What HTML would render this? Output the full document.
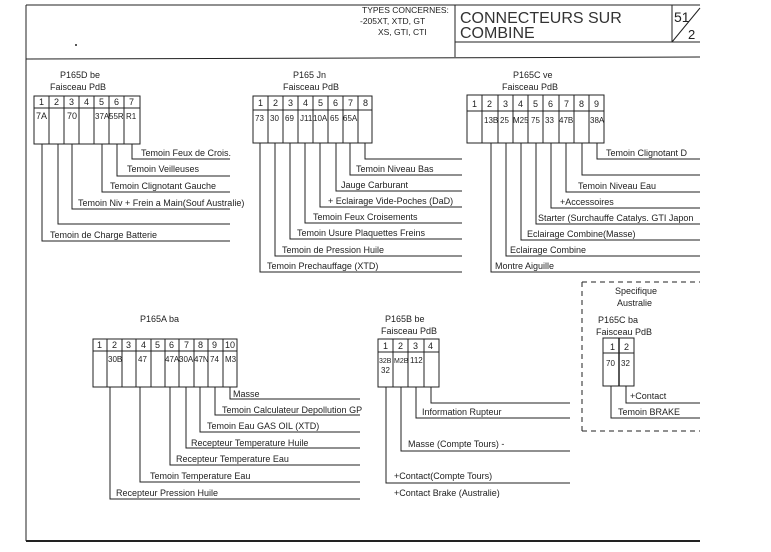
<!DOCTYPE html>
<html><head><meta charset="utf-8"><style>
html,body{margin:0;padding:0;background:#fff;}
svg{display:block;}
text{font-family:"Liberation Sans",sans-serif;font-size:9px;fill:#222;}
.n{font-size:9px;}
</style></head><body>
<svg width="771" height="552" viewBox="0 0 771 552" xmlns="http://www.w3.org/2000/svg">
<g stroke="#222" stroke-width="1" fill="none">
<!-- frame -->
<line x1="26" y1="5" x2="700" y2="5"/>
<line x1="26" y1="5" x2="26" y2="541"/>
<line x1="26" y1="541" x2="700" y2="541" stroke-width="2"/>
<line x1="26" y1="59" x2="700" y2="57"/>
<line x1="455" y1="5" x2="455" y2="57"/>
<line x1="455" y1="42" x2="700" y2="42"/>
<line x1="672" y1="5" x2="672" y2="42"/>
<line x1="672" y1="42" x2="700" y2="8"/>
</g>
<circle cx="76" cy="45" r="1" fill="#222"/>
<text x="362" y="13" style="font-size:8.5px">TYPES CONCERNES:</text>
<text x="360" y="24" style="font-size:8.5px">-205XT, XTD, GT</text>
<text x="378" y="35" style="font-size:8.5px">XS, GTI, CTI</text>
<text x="460" y="23" style="font-size:16px;fill:#333">CONNECTEURS  SUR</text>
<text x="460" y="38" style="font-size:16px;fill:#333">COMBINE</text>
<text x="674" y="22" style="font-size:14px">51</text>
<text x="688" y="39" style="font-size:13px">2</text>

<!-- P165D -->
<text x="60" y="78">P165D be</text>
<text x="50" y="90">Faisceau PdB</text>
<g stroke="#222" fill="none">
<rect x="34" y="96" width="106" height="48"/>
<line x1="34" y1="108" x2="140" y2="108"/>
<line x1="49" y1="96" x2="49" y2="144"/><line x1="64" y1="96" x2="64" y2="144"/><line x1="79" y1="96" x2="79" y2="144"/><line x1="94" y1="96" x2="94" y2="144"/><line x1="109" y1="96" x2="109" y2="144"/><line x1="124" y1="96" x2="124" y2="144"/>
<polyline points="132,144 132,159 230,159"/>
<polyline points="117,144 117,176 230,176"/>
<polyline points="102,144 102,192 230,192"/>
<polyline points="72,144 72,209 230,209"/>
<polyline points="58,144 58,224 230,224"/>
<polyline points="42,144 42,241 230,241"/>
</g>
<text x="39" y="105">1</text><text x="54" y="105">2</text><text x="69" y="105">3</text><text x="84" y="105">4</text><text x="99" y="105">5</text><text x="114" y="105">6</text><text x="129" y="105">7</text>
<text x="36" y="119">7A</text><text x="67" y="119">70</text><text x="95" y="119" style="font-size:8px">37A</text><text x="109" y="119" style="font-size:8px">55R</text><text x="126" y="119" style="font-size:8px">R1</text>
<text x="141" y="156">Temoin Feux de Crois.</text>
<text x="127" y="172">Temoin Veilleuses</text>
<text x="110" y="189">Temoin Clignotant Gauche</text>
<text x="78" y="206">Temoin Niv + Frein a Main(Souf Australie)</text>
<text x="50" y="238">Temoin de Charge Batterie</text>

<!-- P165 -->
<text x="293" y="78">P165 Jn</text>
<text x="283" y="90">Faisceau PdB</text>
<g stroke="#222" fill="none">
<rect x="253" y="96" width="119" height="47"/>
<line x1="253" y1="110" x2="372" y2="110"/>
<line x1="268" y1="96" x2="268" y2="143"/><line x1="283" y1="96" x2="283" y2="143"/><line x1="298" y1="96" x2="298" y2="143"/><line x1="313" y1="96" x2="313" y2="143"/><line x1="328" y1="96" x2="328" y2="143"/><line x1="343" y1="96" x2="343" y2="143"/><line x1="358" y1="96" x2="358" y2="143"/>
<polyline points="365,143 365,159 462,159"/>
<polyline points="350,143 350,175 462,175"/>
<polyline points="336,143 336,191 462,191"/>
<polyline points="320,143 320,207 462,207"/>
<polyline points="305,143 305,223 462,223"/>
<polyline points="290,143 290,239 462,239"/>
<polyline points="275,143 275,256 462,256"/>
<polyline points="260,143 260,272 462,272"/>
</g>
<text x="258" y="106">1</text><text x="273" y="106">2</text><text x="288" y="106">3</text><text x="303" y="106">4</text><text x="318" y="106">5</text><text x="333" y="106">6</text><text x="348" y="106">7</text><text x="363" y="106">8</text>
<text x="255" y="121" style="font-size:8px">73</text><text x="270" y="121" style="font-size:8px">30</text><text x="285" y="121" style="font-size:8px">69</text><text x="300" y="121" style="font-size:8px">J11</text><text x="313" y="121" style="font-size:8px">10A</text><text x="330" y="121" style="font-size:8px">65</text><text x="343" y="121" style="font-size:8px">65A</text>
<text x="356" y="172">Temoin Niveau Bas</text>
<text x="341" y="188">Jauge Carburant</text>
<text x="328" y="204">+ Eclairage Vide-Poches (DaD)</text>
<text x="313" y="220">Temoin Feux Croisements</text>
<text x="297" y="236">Temoin Usure Plaquettes Freins</text>
<text x="282" y="253">Temoin de Pression Huile</text>
<text x="267" y="269">Temoin Prechauffage (XTD)</text>

<!-- P165C ve -->
<text x="513" y="78">P165C ve</text>
<text x="502" y="90">Faisceau PdB</text>
<g stroke="#222" fill="none">
<rect x="467" y="95" width="137" height="48"/>
<line x1="467" y1="111" x2="604" y2="111"/>
<line x1="482" y1="95" x2="482" y2="143"/><line x1="498" y1="95" x2="498" y2="143"/><line x1="513" y1="95" x2="513" y2="143"/><line x1="528" y1="95" x2="528" y2="143"/><line x1="543" y1="95" x2="543" y2="143"/><line x1="559" y1="95" x2="559" y2="143"/><line x1="574" y1="95" x2="574" y2="143"/><line x1="589" y1="95" x2="589" y2="143"/>
<polyline points="597,143 597,159 700,159"/>
<polyline points="582,143 582,175 700,175"/>
<polyline points="566,143 566,192 700,192"/>
<polyline points="551,143 551,208 700,208"/>
<polyline points="536,143 536,224 700,224"/>
<polyline points="521,143 521,240 700,240"/>
<polyline points="506,143 506,256 700,256"/>
<polyline points="491,143 491,272 700,272"/>
</g>
<text x="472" y="107">1</text><text x="487" y="107">2</text><text x="503" y="107">3</text><text x="518" y="107">4</text><text x="533" y="107">5</text><text x="548" y="107">6</text><text x="564" y="107">7</text><text x="579" y="107">8</text><text x="594" y="107">9</text>
<text x="484" y="123" style="font-size:8px">13B</text><text x="500" y="123" style="font-size:8px">25</text><text x="513" y="123" style="font-size:8px">M25</text><text x="531" y="123" style="font-size:8px">75</text><text x="545" y="123" style="font-size:8px">33</text><text x="559" y="123" style="font-size:8px">47B</text><text x="590" y="123" style="font-size:8px">38A</text>
<text x="606" y="156">Temoin Clignotant D</text>
<text x="578" y="189">Temoin Niveau Eau</text>
<text x="560" y="205">+Accessoires</text>
<text x="538" y="221">Starter (Surchauffe Catalys. GTI Japon</text>
<text x="527" y="237">Eclairage Combine(Masse)</text>
<text x="510" y="253">Eclairage Combine</text>
<text x="495" y="269">Montre Aiguille</text>

<!-- P165A ba -->
<text x="140" y="322">P165A ba</text>
<g stroke="#222" fill="none">
<rect x="93" y="339" width="144" height="48"/>
<line x1="93" y1="351" x2="237" y2="351"/>
<line x1="107" y1="339" x2="107" y2="387"/><line x1="122" y1="339" x2="122" y2="387"/><line x1="136" y1="339" x2="136" y2="387"/><line x1="151" y1="339" x2="151" y2="387"/><line x1="165" y1="339" x2="165" y2="387"/><line x1="179" y1="339" x2="179" y2="387"/><line x1="194" y1="339" x2="194" y2="387"/><line x1="208" y1="339" x2="208" y2="387"/><line x1="223" y1="339" x2="223" y2="387"/>
<polyline points="230,387 230,399 360,399"/>
<polyline points="215,387 215,415 360,415"/>
<polyline points="200,387 200,432 360,432"/>
<polyline points="186,387 186,448 360,448"/>
<polyline points="170,387 170,465 360,465"/>
<polyline points="140,387 140,482 360,482"/>
<polyline points="110,387 110,499 360,499"/>
</g>
<text x="97" y="348">1</text><text x="112" y="348">2</text><text x="126" y="348">3</text><text x="141" y="348">4</text><text x="155" y="348">5</text><text x="169" y="348">6</text><text x="184" y="348">7</text><text x="198" y="348">8</text><text x="212" y="348">9</text><text x="225" y="348">10</text>
<text x="108" y="362" style="font-size:8px">30B</text><text x="138" y="362" style="font-size:8px">47</text><text x="165" y="362" style="font-size:8px">47A</text><text x="179" y="362" style="font-size:8px">30A</text><text x="194" y="362" style="font-size:8px">47N</text><text x="210" y="362" style="font-size:8px">74</text><text x="225" y="362" style="font-size:8px">M3</text>
<text x="233" y="397">Masse</text>
<text x="222" y="413">Temoin Calculateur Depollution GP</text>
<text x="207" y="429">Temoin Eau GAS OIL (XTD)</text>
<text x="191" y="446">Recepteur Temperature Huile</text>
<text x="176" y="462">Recepteur Temperature Eau</text>
<text x="150" y="479">Temoin Temperature Eau</text>
<text x="116" y="496">Recepteur Pression Huile</text>

<!-- P165B be -->
<text x="385" y="322">P165B be</text>
<text x="381" y="334">Faisceau PdB</text>
<g stroke="#222" fill="none">
<rect x="378" y="339" width="61" height="48"/>
<line x1="378" y1="352" x2="439" y2="352"/>
<line x1="393" y1="339" x2="393" y2="387"/><line x1="408" y1="339" x2="408" y2="387"/><line x1="424" y1="339" x2="424" y2="387"/>
<polyline points="431,387 431,403 570,403"/>
<polyline points="416,387 416,418 570,418"/>
<polyline points="401,387 401,451 570,451"/>
<polyline points="386,387 386,483 570,483"/>
</g>
<text x="383" y="349">1</text><text x="398" y="349">2</text><text x="413" y="349">3</text><text x="428" y="349">4</text>
<text x="379" y="363" style="font-size:7px">32B</text><text x="381" y="373" style="font-size:8px">32</text><text x="394" y="363" style="font-size:7px">M2B</text><text x="410" y="363" style="font-size:8px">112</text>
<text x="422" y="415">Information Rupteur</text>
<text x="408" y="447">Masse (Compte Tours) -</text>
<text x="394" y="479">+Contact(Compte Tours)</text>
<text x="394" y="496">+Contact Brake (Australie)</text>

<!-- Australie -->
<g stroke="#222" fill="none" stroke-dasharray="5,4">
<line x1="582" y1="282" x2="700" y2="282"/>
<line x1="582" y1="282" x2="582" y2="431"/>
<line x1="582" y1="431" x2="700" y2="431"/>
</g>
<text x="615" y="294">Specifique</text>
<text x="617" y="306">Australie</text>
<text x="598" y="323">P165C ba</text>
<text x="596" y="335">Faisceau  PdB</text>
<g stroke="#222" fill="none">
<rect x="603" y="338" width="31" height="48"/>
<line x1="603" y1="353" x2="634" y2="353"/>
<line x1="619" y1="338" x2="619" y2="386" stroke-width="1.5"/>
<polyline points="626,386 626,403 700,403"/>
<polyline points="611,386 611,418 700,418"/>
</g>
<text x="610" y="350">1</text><text x="624" y="350">2</text>
<text x="606" y="366" style="font-size:8px">70</text><text x="621" y="366" style="font-size:8px">32</text>
<text x="630" y="399">+Contact</text>
<text x="618" y="415">Temoin BRAKE</text>
</svg>
</body></html>
